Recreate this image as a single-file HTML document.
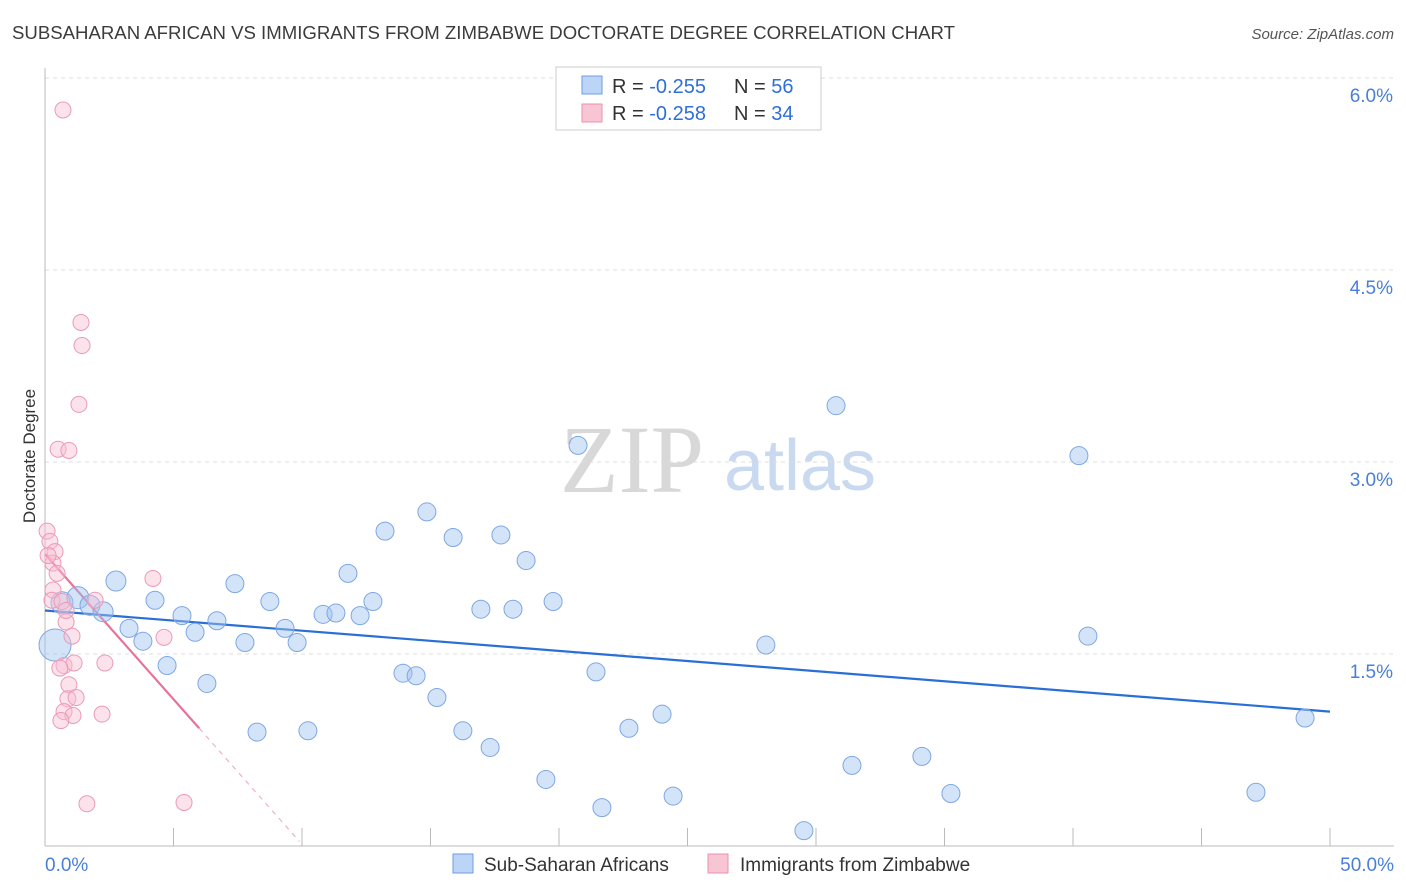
<!DOCTYPE html>
<html><head><meta charset="utf-8"><style>
body{margin:0;background:#fff;font-family:"Liberation Sans",sans-serif}
svg{display:block}
</style></head><body>
<svg id="chart" width="1406" height="892">
<text x="12" y="39" font-size="18" fill="#3c3c3c" textLength="943" lengthAdjust="spacingAndGlyphs">SUBSAHARAN AFRICAN VS IMMIGRANTS FROM ZIMBABWE DOCTORATE DEGREE CORRELATION CHART</text>
<text x="1394" y="39" font-size="15" fill="#555" font-style="italic" text-anchor="end">Source: ZipAtlas.com</text>
<text x="35" y="456" font-size="17" fill="#333" text-anchor="middle" transform="rotate(-90 35 456)">Doctorate Degree</text>
<g>
<text x="632" y="492" font-size="96" fill="#d8d8d8" font-family="Liberation Serif,serif" text-anchor="middle">ZIP</text>
<text x="800" y="490" font-size="72" fill="#c9daf0" text-anchor="middle">atlas</text>
</g>
<g id="grid"></g><g id="axes"></g><g id="trend"></g><g id="pts"></g>
<g>
<rect x="556" y="67" width="265" height="63" fill="#fff" stroke="#ccc"/>
<rect x="582" y="76" width="20" height="18" fill="#bcd4f5" stroke="#6f9be0"/>
<rect x="582" y="104" width="20" height="18" fill="#f8c5d4" stroke="#e891ad"/>
<g>
<text x="612" y="93" font-size="20" fill="#333">R = <tspan fill="#2f6fd6">-0.255</tspan></text>
<text x="734" y="93" font-size="20" fill="#333">N = <tspan fill="#2f6fd6">56</tspan></text>
</g>
<g>
<text x="612" y="120" font-size="20" fill="#333">R = <tspan fill="#2f6fd6">-0.258</tspan></text>
<text x="734" y="120" font-size="20" fill="#333">N = <tspan fill="#2f6fd6">34</tspan></text>
</g>
</g>
<g>
<rect x="453" y="854" width="20" height="19" fill="#bcd4f5" stroke="#6f9be0"/>
<text x="484" y="871" font-size="19" fill="#333">Sub-Saharan Africans</text>
<rect x="708" y="854" width="20" height="19" fill="#f8c5d4" stroke="#e891ad"/>
<text x="740" y="871" font-size="19" fill="#333">Immigrants from Zimbabwe</text>
</g>
</svg>
<script>
const yTicks=[1.5,3.0,4.5,6.0];
const yTickLabels=["1.5%","3.0%","4.5%","6.0%"];
const xTickVals=[0,5,10,15,20,25,30,35,40,45,50];
const blueX=[0.39,0.66,1.28,1.75,2.26,2.76,3.27,3.81,4.28,4.75,5.33,5.84,6.30,6.69,7.39,7.78,8.25,8.75,9.34,9.81,10.23,10.82,11.32,11.79,12.26,12.76,13.23,13.93,14.44,14.86,15.25,15.88,16.26,16.96,17.32,17.74,18.21,18.72,19.49,19.77,20.74,21.44,21.67,22.72,24.01,24.44,28.05,29.53,30.78,31.40,34.12,35.25,40.23,40.58,47.12,49.03];
const blueY=[1.57,1.90,1.94,1.88,1.83,2.07,1.70,1.60,1.92,1.41,1.80,1.67,1.27,1.76,2.05,1.59,0.89,1.91,1.70,1.59,0.90,1.81,1.82,2.13,1.80,1.91,2.46,1.35,1.33,2.61,1.16,2.41,0.90,1.85,0.77,2.43,1.85,2.23,0.52,1.91,3.13,1.36,0.30,0.92,1.03,0.39,1.57,0.12,3.44,0.63,0.70,0.41,3.05,1.64,0.42,1.00];
const blueSize=[16,11,11,10,10,10,9,9,9,9,9,9,9,9,9,9,9,9,9,9,9,9,9,9,9,9,9,9,9,9,9,9,9,9,9,9,9,9,9,9,9,9,9,9,9,9,9,9,9,9,9,9,9,9,9,9];
const pinkX=[0.70,1.40,1.44,1.32,0.51,0.93,0.08,0.19,0.39,0.31,0.47,0.31,0.27,0.66,1.95,0.82,1.05,4.20,4.63,2.33,0.74,1.13,0.58,0.93,0.89,1.21,0.74,2.22,1.09,0.62,1.63,5.41,0.12,0.82];
const pinkY=[5.75,4.09,3.91,3.45,3.10,3.09,2.46,2.38,2.30,2.21,2.13,2.00,1.92,1.91,1.92,1.75,1.64,2.09,1.63,1.43,1.41,1.43,1.39,1.26,1.15,1.16,1.05,1.03,1.02,0.98,0.33,0.34,2.27,1.84];
const blueTrend=[1.84,-0.0158];
const pinkTrend=[2.28,-0.2267];
const pinkSolidEnd=6.0, pinkDashEnd=9.9;
const X=v=>45+v*25.7, Y=v=>846-v*128;
const NS="http://www.w3.org/2000/svg";
function mk(tag,attrs,parent){const e=document.createElementNS(NS,tag);for(const k in attrs)e.setAttribute(k,attrs[k]);parent.appendChild(e);return e;}
const grid=document.getElementById('grid'),axes=document.getElementById('axes'),trend=document.getElementById('trend'),pts=document.getElementById('pts');
yTicks.forEach((t,i)=>{
 const l=mk('line',{x1:45,x2:1394,y1:Y(t),y2:Y(t),stroke:'#ddd','stroke-dasharray':'4,4'},grid);
 
 
 const tx=mk('text',{x:1393,y:Y(t)+24,'font-size':19,fill:'#4a7fd8','text-anchor':'end'},axes);
 tx.textContent=yTickLabels[i];
 
 
});
let a=mk('line',{x1:45,x2:45,y1:68,y2:846,stroke:'#bbb'},axes);


a=mk('line',{x1:45,x2:1394,y1:846,y2:846,stroke:'#bbb'},axes);


xTickVals.forEach(t=>{
 const l=mk('line',{x1:X(t),x2:X(t),y1:828,y2:846,stroke:'#bbb'},axes);
 
 
});
let t0=mk('text',{x:45,y:871,'font-size':19,fill:'#4a7fd8'},axes);t0.textContent="0.0%";


let t1=mk('text',{x:1394,y:871,'font-size':19,fill:'#4a7fd8','text-anchor':'end'},axes);t1.textContent="50.0%";


blueX.forEach((x,i)=>{
 const c=mk('circle',{cx:X(x),cy:Y(blueY[i]),r:blueSize[i],fill:'rgba(160,195,240,0.45)',stroke:'#7ea7e3','stroke-width':1},pts);
 
 
});
pinkX.forEach((x,i)=>{
 const c=mk('circle',{cx:X(x),cy:Y(pinkY[i]),r:8,fill:'rgba(248,190,210,0.45)',stroke:'#ec9ab5','stroke-width':1},pts);
 
 
});
let bl=mk('line',{x1:X(0),y1:Y(blueTrend[0]),x2:X(50),y2:Y(blueTrend[0]+blueTrend[1]*50),stroke:'#2a6fd6','stroke-width':2.2},trend);


let pl=mk('line',{x1:X(0),y1:Y(pinkTrend[0]),x2:X(pinkSolidEnd),y2:Y(pinkTrend[0]+pinkTrend[1]*pinkSolidEnd),stroke:'#e8729a','stroke-width':2.2},trend);


let pd=mk('line',{x1:X(pinkSolidEnd),y1:Y(pinkTrend[0]+pinkTrend[1]*pinkSolidEnd),x2:X(pinkDashEnd),y2:Y(pinkTrend[0]+pinkTrend[1]*pinkDashEnd),stroke:'#f0b0c6','stroke-width':1.2,'stroke-dasharray':'5,5'},trend);


</script>
</body></html>
